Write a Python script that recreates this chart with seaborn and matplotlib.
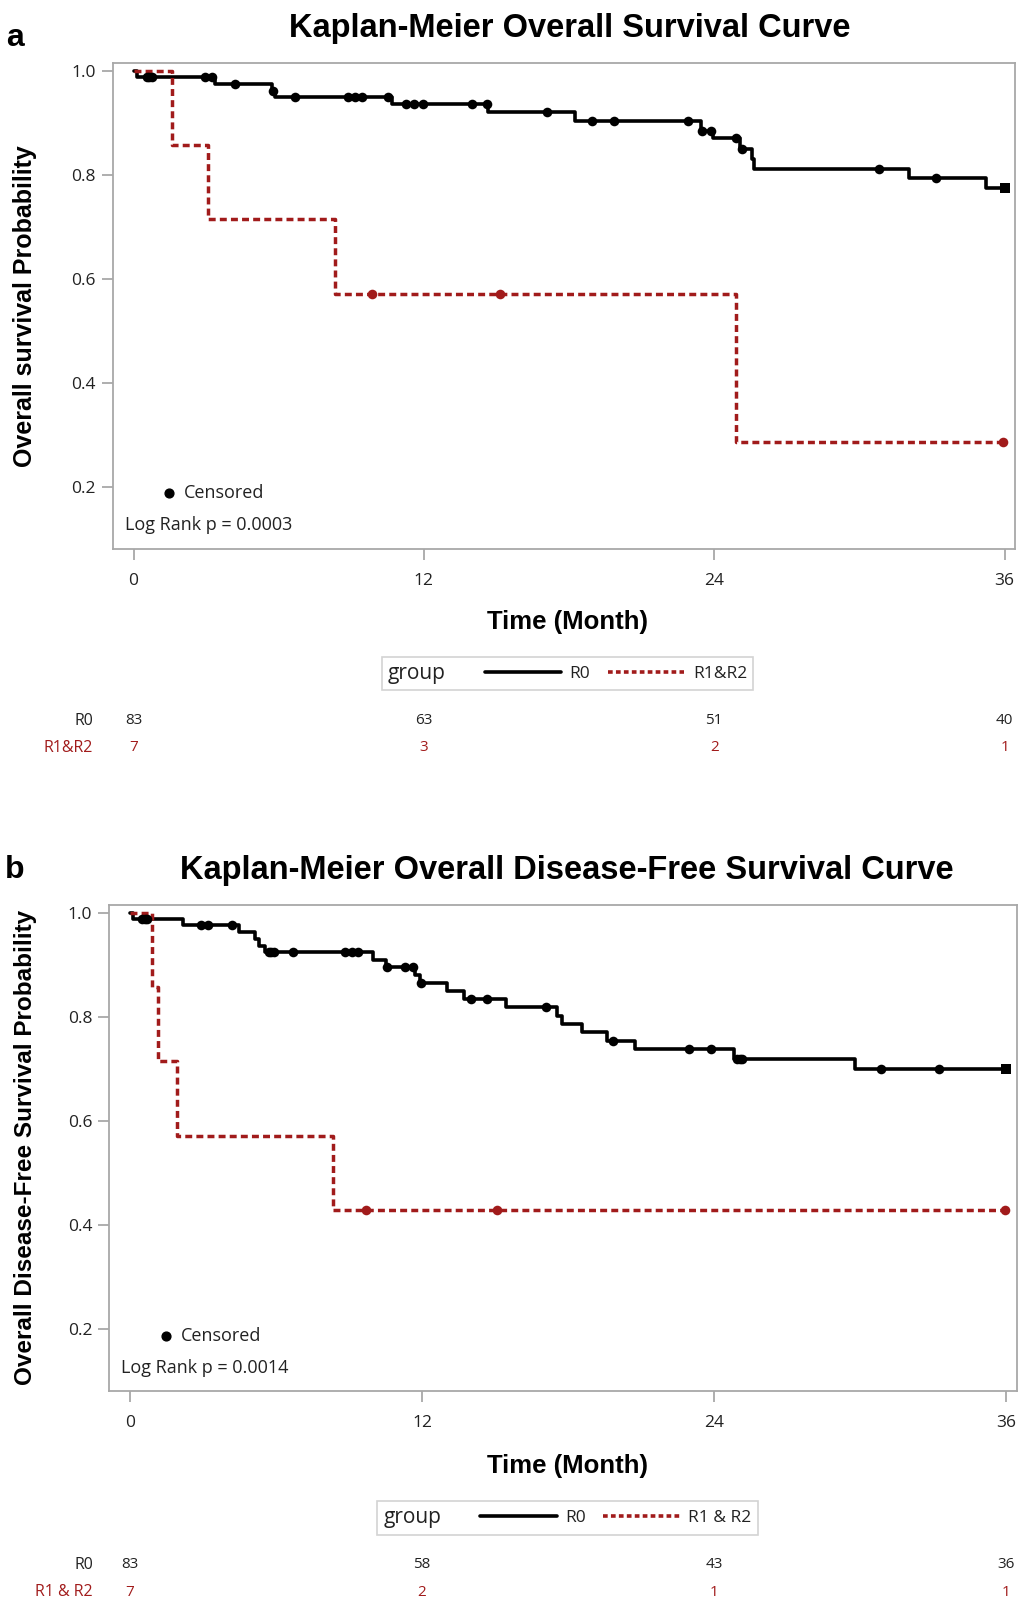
import numpy as np
import pandas as pd
import matplotlib
matplotlib.use('Agg')
import matplotlib.pyplot as plt
import seaborn as sns
from matplotlib.lines import Line2D
from matplotlib.offsetbox import HPacker


# ---- panel a: overall survival (step times / survival probability) ----
os_r0_time = [0, 0.15, 3.37, 5.71, 5.85, 10.67, 14.66, 18.24, 23.45, 23.95,
              25.08, 25.58, 25.66, 32.03, 35.24, 36]
os_r0_surv = [1.0, 0.988, 0.974, 0.962, 0.949, 0.936, 0.921, 0.904, 0.885, 0.870,
              0.849, 0.831, 0.812, 0.793, 0.774, 0.774]
os_r0_cens = [0.55, 0.65, 0.75, 2.96, 3.24, 4.2, 5.78, 6.68, 8.88, 9.15, 9.43,
              10.53, 11.26, 11.6, 11.95, 14.01, 14.59, 17.07, 18.95, 19.85,
              22.91, 23.5, 23.85, 24.88, 25.15, 30.83, 33.17]

os_r12_time = [0, 1.58, 3.07, 8.33, 24.91, 36]
os_r12_surv = [1.0, 0.857, 0.714, 0.571, 0.286, 0.286]
os_r12_cens = [9.84, 15.14, 35.95]

os_risk_r0 = [83, 63, 51, 40]
os_risk_r12 = [7, 3, 2, 1]

# ---- panel b: disease-free survival ----
dfs_r0_time = [0, 0.14, 2.19, 4.49, 5.14, 5.32, 5.55, 10.0, 10.5, 11.72, 11.92,
               13.02, 13.71, 15.46, 17.54, 17.75, 18.57, 19.6, 20.76, 24.81, 29.81, 36]
dfs_r0_surv = [1.0, 0.988, 0.976, 0.963, 0.950, 0.937, 0.924, 0.910, 0.895, 0.880, 0.865,
               0.849, 0.834, 0.818, 0.802, 0.786, 0.770, 0.754, 0.738, 0.718, 0.699, 0.699]
dfs_r0_cens = [0.5, 0.6, 0.7, 2.92, 3.22, 4.18, 5.7, 5.8, 5.9, 6.68, 8.84, 9.11,
               9.39, 10.56, 11.31, 11.65, 11.97, 14.0, 14.69, 17.09, 19.85, 22.98,
               23.87, 24.95, 25.05, 25.15, 30.84, 33.24]

dfs_r12_time = [0, 0.89, 1.16, 1.95, 8.36, 36]
dfs_r12_surv = [1.0, 0.857, 0.714, 0.571, 0.429, 0.429]
dfs_r12_cens = [9.7, 15.1, 35.95]

dfs_risk_r0 = [83, 58, 43, 36]
dfs_risk_r12 = [7, 2, 1, 1]

risk_times = [0, 12, 24, 36]
last_r0_time = [36]

RED = '#a11b1b'
GREY = '#a8a8a8'
TXT = 'Open Sans'
HEAD = 'Liberation Sans'


def surv_at(times, surv, t):
    idx = np.searchsorted(times, t, side='right') - 1
    return np.asarray(surv)[idx]


def draw_panel(ax, r0_t, r0_s, r0_c, r12_t, r12_s, r12_c):
    groups = [(r0_t, r0_s, r0_c, 'black', '-', 2.6),
              (r12_t, r12_s, r12_c, RED, (0, (2.0, 1.2)), 2.5)]
    for t, s, c, col, ls, lw in groups:
        steps = pd.DataFrame({'time': t, 'surv': s})
        sns.lineplot(data=steps, x='time', y='surv', ax=ax, color=col, linewidth=lw,
                     linestyle=ls, drawstyle='steps-post', estimator=None, sort=False)
        cens = pd.DataFrame({'time': c, 'surv': surv_at(t, s, c)})
        sns.scatterplot(data=cens, x='time', y='surv', ax=ax, color=col, s=48,
                        linewidth=0, zorder=3)
    end = pd.DataFrame({'time': last_r0_time, 'surv': surv_at(r0_t, r0_s, last_r0_time)})
    sns.scatterplot(data=end, x='time', y='surv', ax=ax, color='black', marker='s',
                    s=55, linewidth=0, zorder=3)

    ax.set_xlim(-0.86, 36.45)
    ax.set_ylim(0.08, 1.015)
    ax.set_xticks(risk_times)
    ax.set_yticks([0.2, 0.4, 0.6, 0.8, 1.0])
    ax.set_yticklabels(['0.2', '0.4', '0.6', '0.8', '1.0'])
    ax.set_xlabel('')
    ax.set_ylabel('')
    for sp in ax.spines.values():
        sp.set_visible(True)
        sp.set_color(GREY)
        sp.set_linewidth(1.3)
    ax.tick_params(axis='both', bottom=True, left=True, direction='out', length=8,
                   width=1.3, color=GREY, labelsize=12.5, labelcolor='#222222')
    ax.tick_params(axis='x', pad=9)
    ax.tick_params(axis='y', pad=4)
    for lab in ax.get_xticklabels() + ax.get_yticklabels():
        lab.set_fontfamily(TXT)


def add_legend(y, r12_label):
    handles = [Line2D([], [], color='black', lw=2.6),
               Line2D([], [], color=RED, lw=2.6, linestyle=(0, (1.3, 0.9)))]
    leg = fig.legend(handles, ['R0', r12_label], title='group', ncol=2,
                     loc='center', bbox_to_anchor=(0.5575, y), frameon=True,
                     title_fontsize=15, handlelength=4.4,
                     handletextpad=0.5, columnspacing=1.0, borderpad=0.35,
                     fancybox=False, edgecolor='#c8c8c8',
                     prop={'family': TXT, 'size': 12.5})
    leg.get_frame().set_linewidth(1.2)
    leg.get_title().set_fontfamily(TXT)
    leg.get_title().set_color('#222222')
    for t in leg.get_texts():
        t.set_color('#222222')
    box = leg._legend_box
    row = HPacker(pad=0, sep=28, align='center',
                  children=[leg._legend_title_box, leg._legend_handle_box])
    row.set_figure(fig)
    box._children = [row]


def add_risk_table(ax, y0, y1, risk_r0, risk_r12, r12_label):
    tr = matplotlib.transforms.blended_transform_factory(ax.transData, fig.transFigure)
    fig.text(0.0914, y0, 'R0', ha='right', va='center', fontsize=11.5, family=TXT, color='#222222')
    fig.text(0.0914, y1, r12_label, ha='right', va='center', fontsize=11.5, family=TXT, color=RED)
    for t, a, b in zip(risk_times, risk_r0, risk_r12):
        ax.text(t, y0, str(a), transform=tr, ha='center', va='center', fontsize=11,
                family=TXT, color='#222222')
        ax.text(t, y1, str(b), transform=tr, ha='center', va='center', fontsize=11,
                family=TXT, color=RED)


def add_notes(ax, mx, my, p_text, py):
    ax.scatter([mx], [my], s=40, color='black', transform=ax.transAxes, zorder=4)
    ax.text(mx + 0.016, my, 'Censored', transform=ax.transAxes, va='center',
            fontsize=13, family=TXT, color='#222222')
    ax.text(0.0136, py, p_text, transform=ax.transAxes, va='center',
            fontsize=13, family=TXT, color='#222222')


sns.set_style('white')
plt.rcParams['font.family'] = [HEAD, 'DejaVu Sans']
plt.rcParams['text.color'] = 'black'

fig = plt.figure(figsize=(10.18, 16.04), dpi=100)
ax_a = fig.add_axes([0.1107, 0.6577, 0.8868, 0.303])
ax_b = fig.add_axes([0.1071, 0.1328, 0.892, 0.303])

draw_panel(ax_a, os_r0_time, os_r0_surv, os_r0_cens, os_r12_time, os_r12_surv, os_r12_cens)
draw_panel(ax_b, dfs_r0_time, dfs_r0_surv, dfs_r0_cens, dfs_r12_time, dfs_r12_surv, dfs_r12_cens)

# titles, panel letters, axis labels
fig.text(0.5595, 0.9825, 'Kaplan-Meier Overall Survival Curve', ha='center', va='center',
         fontsize=23.5, fontweight='bold')
fig.text(0.557, 0.4575, 'Kaplan-Meier Overall Disease-Free Survival Curve', ha='center',
         va='center', fontsize=23.5, fontweight='bold')
fig.text(0.0147, 0.9763, 'a', ha='center', va='center', fontsize=23, fontweight='bold')
fig.text(0.0147, 0.4573, 'b', ha='center', va='center', fontsize=23, fontweight='bold')

fig.text(0.557, 1 - 622 / 1604, 'Time (Month)', ha='center', va='center', fontsize=18.5,
         fontweight='bold')
fig.text(0.557, 1 - 1466 / 1604, 'Time (Month)', ha='center', va='center', fontsize=18.5,
         fontweight='bold')
fig.text(0.025, 1 - 306 / 1604, 'Overall survival Probability', rotation=90, ha='center',
         va='center', fontsize=18, fontweight='bold')
fig.text(0.025, 1 - 1147 / 1604, 'Overall Disease-Free Survival Probability', rotation=90,
         ha='center', va='center', fontsize=17.5, fontweight='bold')

add_notes(ax_a, 0.0624, 0.1152, 'Log Rank p = 0.0003', 0.049)
add_notes(ax_b, 0.0628, 0.113, 'Log Rank p = 0.0014', 0.047)

add_legend(1 - 673.5 / 1604, 'R1&R2')
add_legend(1 - 1518 / 1604, 'R1 & R2')

add_risk_table(ax_a, 1 - 721 / 1604, 1 - 748 / 1604, os_risk_r0, os_risk_r12, 'R1&R2')
add_risk_table(ax_b, 1 - 1565 / 1604, 1 - 1592 / 1604, dfs_risk_r0, dfs_risk_r12, 'R1 & R2')

fig.savefig('out.png', dpi=100)
